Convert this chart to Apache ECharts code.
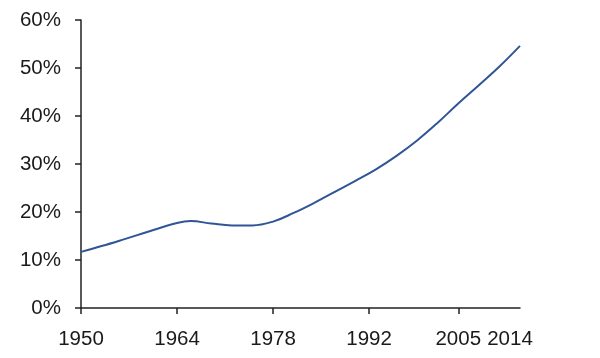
<!DOCTYPE html>
<html>
<head>
<meta charset="utf-8">
<script src="https://cdn.jsdelivr.net/npm/echarts@6/dist/echarts.min.js"></script>
<style>html,body{margin:0;padding:0;background:#fff}#c{width:600px;height:358px}</style>
</head>
<body>
<div id="c"></div>
<script>
const years = [1950, 1953, 1956, 1960, 1964, 1966, 1969, 1972, 1975, 1978, 1981, 1984, 1987, 1990, 1993, 1996, 1999, 2002, 2005, 2008, 2011, 2014];
const values = [11.7, 12.9, 14.2, 16.0, 17.7, 18.1, 17.6, 17.2, 17.2, 18.0, 19.8, 21.9, 24.2, 26.5, 28.9, 31.7, 34.9, 38.6, 42.6, 46.4, 50.3, 54.6];
const tickYears = [1950, 1964, 1978, 1992, 2005];
const labelYears = [1950, 1964, 1978, 1992, 2005, 2014];
const yTicks = [0, 10, 20, 30, 40, 50, 60];

const chart = echarts.init(document.getElementById('c'), null, {renderer: 'canvas'});
const textColor = '#1a1a1a';
const font = 'Liberation Sans, Arial, sans-serif';
chart.setOption({
  animation: false,
  grid: {left: 81, right: 80, top: 20, bottom: 50},
  xAxis: {
    type: 'value',
    min: 1950,
    max: 2014,
    splitLine: {show: false},
    axisLine: {show: true, onZero: false, lineStyle: {color: '#222', width: 1.5}},
    axisTick: {show: true, length: 6, customValues: tickYears, lineStyle: {color: '#222', width: 1.5}},
    axisLabel: {
      customValues: labelYears,
      margin: 21,
      fontFamily: font,
      fontSize: 20.5,
      color: textColor,
      formatter: function (v) { return v === 2014 ? '{r|2014}' : String(v); },
      rich: {r: {padding: [0, 20, 0, 0], fontFamily: font, fontSize: 20.5, color: textColor}}
    }
  },
  yAxis: {
    type: 'value',
    min: yTicks[0],
    max: yTicks[yTicks.length - 1],
    interval: 10,
    splitLine: {show: false},
    axisLine: {show: true, lineStyle: {color: '#222', width: 1.5}},
    axisTick: {show: true, length: 6, lineStyle: {color: '#222', width: 1.5}},
    axisLabel: {
      margin: 20,
      fontFamily: font,
      fontSize: 20.5,
      color: textColor,
      padding: [6, 0, 0, 0],
      formatter: '{value}%'
    }
  },
  series: [{
    type: 'line',
    data: years.map((y, i) => [y, values[i]]),
    smooth: 0.4,
    showSymbol: false,
    lineStyle: {color: '#2F5597', width: 2}
  }]
});
</script>
</body>
</html>
